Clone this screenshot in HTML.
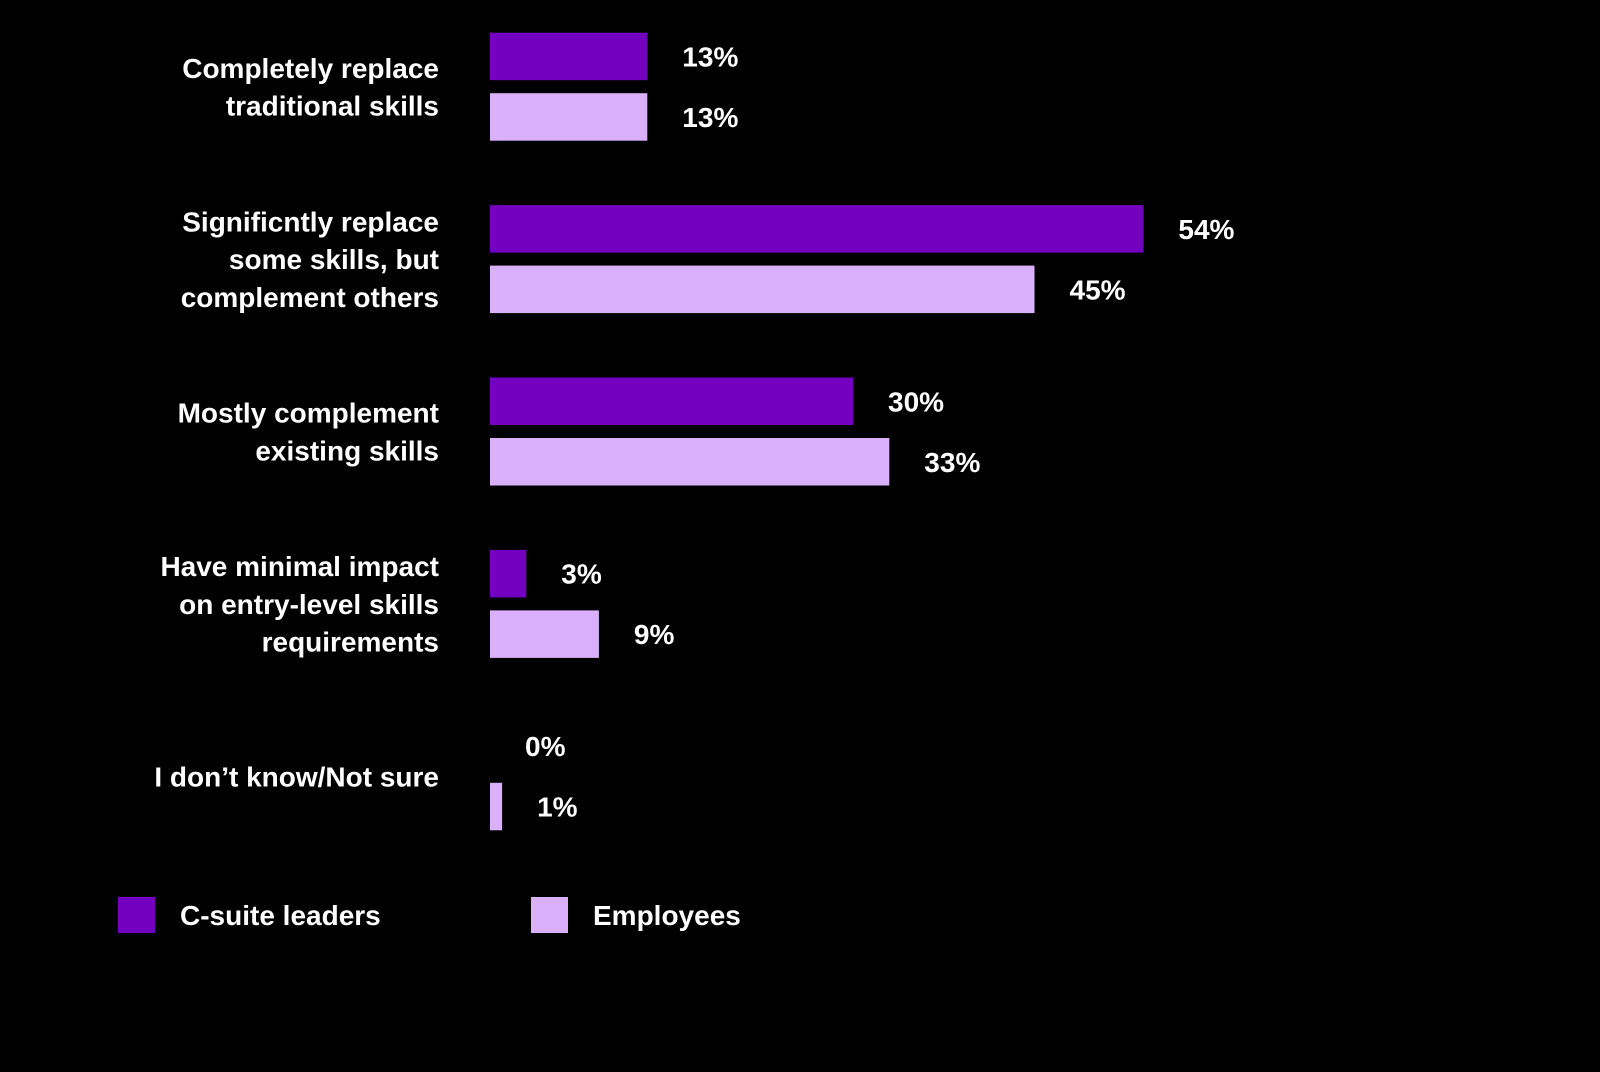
<!DOCTYPE html>
<html><head><meta charset="utf-8"><style>
body{margin:0;background:#000;width:1600px;height:1067px;overflow:hidden;font-family:"Liberation Sans",sans-serif;}
svg text{font-family:"Liberation Sans",sans-serif;fill:#fff;font-weight:bold;}
</style></head><body>
<svg width="1600" height="1067" id="chart">
<rect width="1600" height="1067" fill="#000"/>
</svg>
<script>
const categories=[["Completely replace","traditional skills"],["Significntly replace","some skills, but","complement others"],["Mostly complement","existing skills"],["Have minimal impact","on entry-level skills","requirements"],["I don\u2019t know/Not sure"]];
const leaders=[13,54,30,3,0];
const employees=[13,45,33,9,1];
const seriesNames=["C-suite leaders","Employees"];
const colors=["#7300c0","#dab0fd"];
const svg=document.getElementById('chart');
const NS="http://www.w3.org/2000/svg";
const x0=490,perPct=12.1,groupTop=32.7,pitch=172.4,barH=47.5,gap=60.5;
function xs(v){return v*perPct;}
function mk(t,a){const e=document.createElementNS(NS,t);for(const k in a)e.setAttribute(k,a[k]);svg.appendChild(e);return e;}
categories.forEach((lines,i)=>{
  const top=groupTop+i*pitch;
  const center=top+(gap+barH)/2;
  lines.forEach((ln,j)=>{
    const t=mk('text',{x:439,y:center+(j-(lines.length-1)/2)*37.8+10,'text-anchor':'end','font-size':28});
    t.textContent=ln;
    
    
  });
  [leaders[i],employees[i]].forEach((v,s)=>{
    const y=top+s*gap;
    if(v>0){
      const r=mk('rect',{x:x0,y:y,width:xs(v),height:barH,fill:colors[s]});
      
      
    }
    const t=mk('text',{x:x0+xs(v)+35,y:y+barH/2+10,'font-size':28});
    t.textContent=v+'%';
    
    
  });
});
const legX=[118,531];
seriesNames.forEach((n,s)=>{
  const r=mk('rect',{x:legX[s],y:897,width:37,height:36,fill:colors[s]});
  
  
  const t=mk('text',{x:legX[s]+62,y:925,'font-size':28});
  t.textContent=n;
  
  
});
</script>
</body></html>
